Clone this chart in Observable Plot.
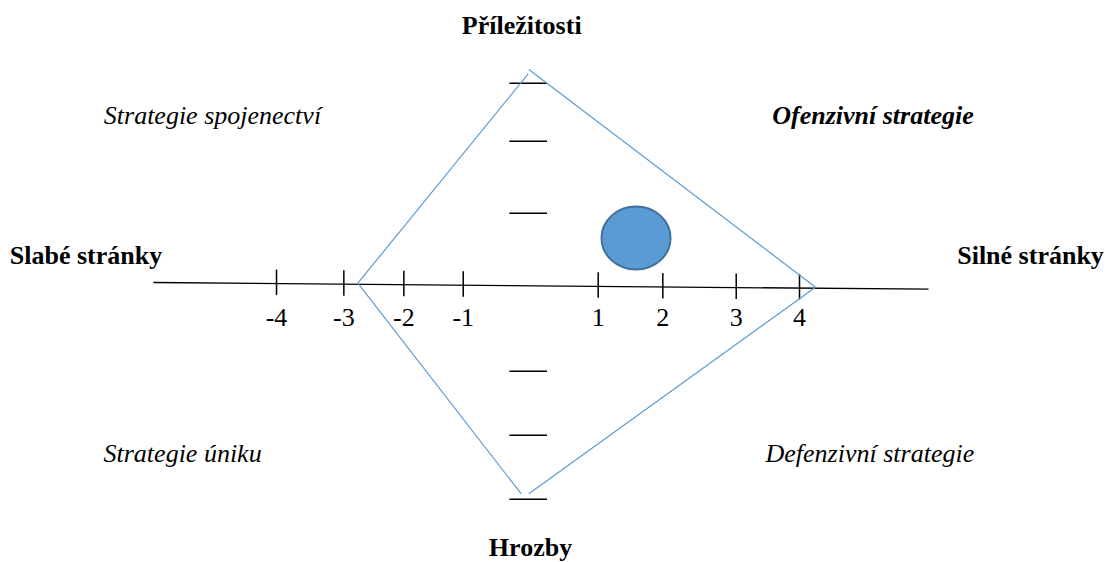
<!DOCTYPE html>
<html>
<head>
<meta charset="utf-8">
<script src="https://cdn.jsdelivr.net/npm/d3@7"></script>
<script src="https://cdn.jsdelivr.net/npm/@observablehq/plot@0.6"></script>
<style>
  html, body { margin: 0; padding: 0; background: #ffffff; }
  #chart svg { display: block; }
</style>
</head>
<body>
<div id="chart"></div>
<script>
// ---- Data (diagram units: horizontal axis = strengths/weaknesses, vertical = opportunities/threats) ----
// Horizontal axis line end points (the line is drawn slightly slanted)
const axisX = [-5.682, 6.061];
const axisY = [-0.015, -0.117];

// Tick marks on the horizontal axis (positions as drawn) and their labels
const tickPositions = [-3.818, -2.798, -1.889, -0.989, 1.056, 2.035, 3.147, 4.106];
const tickLabels = ["-4", "-3", "-2", "-1", "1", "2", "3", "4"];

// Short horizontal dashes on the vertical (opportunity/threat) axis
const dashLevels = [3.005, 2.126, 1.035, -1.359, -2.330, -3.298];

// Strategy polygon: four edges (start -> end)
const edgeX1 = [-2.586, 0.005, 4.348, -0.111];
const edgeY1 = [-0.026, 3.212, -0.086, -3.217];
const edgeX2 = [-0.005, 4.348, 0.005, -2.586];
const edgeY2 = [3.147, -0.086, -3.217, -0.026];

// Position of the organisation (ellipse)
const positionX = [1.629];
const positionY = [0.659];

// Axis titles
const axisTitleText = ["Příležitosti", "Hrozby", "Slabé stránky", "Silné stránky"];
const axisTitleX = [-0.103, 0.030, -7.859, 8.717];
const axisTitleY = [3.879, -4.026, 0.394, 0.394];
const axisTitleAnchor = ["middle", "middle", "start", "end"];

// Quadrant (strategy) labels
const quadrantText = ["Strategie spojenectví", "Ofenzivní strategie", "Strategie úniku", "Defenzivní strategie"];
const quadrantX = [-6.435, 3.692, -6.439, 3.591];
const quadrantY = [2.515, 2.515, -2.602, -2.602];
const quadrantBold = [false, true, false, false];

// ---- Build tables ----
const axisLine = [{x1: axisX[0], y1: axisY[0], x2: axisX[1], y2: axisY[1]}];
const axisAt = x => axisY[0] + (axisY[1] - axisY[0]) * (x - axisX[0]) / (axisX[1] - axisX[0]);
const ticks = tickPositions.map((x, i) => ({x, label: tickLabels[i], yc: axisAt(x)}));
const dashes = dashLevels.map(y => ({y}));
const edges = edgeX1.map((x1, i) => ({x1, y1: edgeY1[i], x2: edgeX2[i], y2: edgeY2[i]}));
const position = positionX.map((x, i) => ({x, y: positionY[i]}));
const titles = axisTitleText.map((t, i) => ({t, x: axisTitleX[i], y: axisTitleY[i], a: axisTitleAnchor[i]}));
const quads = quadrantText.map((t, i) => ({t, x: quadrantX[i], y: quadrantY[i], b: quadrantBold[i]}));

// ellipse symbol (slightly wider than tall)
const ellipse = {
  draw(context, size) {
    const r = Math.sqrt(size / Math.PI);
    const rx = r * 34.5 / 31.5, ry = r, k = 0.5523;
    context.moveTo(rx, 0);
    context.bezierCurveTo(rx, ry * k, rx * k, ry, 0, ry);
    context.bezierCurveTo(-rx * k, ry, -rx, ry * k, -rx, 0);
    context.bezierCurveTo(-rx, -ry * k, -rx * k, -ry, 0, -ry);
    context.bezierCurveTo(rx * k, -ry, rx, -ry * k, rx, 0);
    context.closePath();
  }
};

const FS = 26;
const FONT = "'Liberation Serif', 'Times New Roman', serif";
const tickUp = 14 / 66, tickDown = 11.5 / 66;
const dashLeft = -0.29, dashRight = 0.28;

const titleMark = anchor => Plot.text(titles.filter(d => d.a === anchor), {
  x: "x", y: "y", text: "t", textAnchor: anchor, fontFamily: FONT, fontSize: FS, fontWeight: "bold", fill: "#000000"
});

const chart = Plot.plot({
  width: 1105,
  height: 562,
  margin: 0,
  x: {domain: [-8, 8.742], axis: null},
  y: {domain: [-4.258, 4.258], axis: null},
  style: {fontFamily: FONT, background: "#ffffff"},
  marks: [
    // horizontal axis
    Plot.link(axisLine, {x1: "x1", y1: "y1", x2: "x2", y2: "y2", stroke: "#000000", strokeWidth: 1.3}),
    // axis ticks
    Plot.link(ticks, {x1: "x", x2: "x", y1: d => d.yc + tickUp, y2: d => d.yc - tickDown, stroke: "#000000", strokeWidth: 1.5}),
    Plot.text(ticks, {x: "x", y: -0.541, text: "label", fontFamily: FONT, fontSize: FS, fill: "#000000"}),
    // vertical dashes
    Plot.link(dashes, {x1: dashLeft, x2: dashRight, y1: "y", y2: "y", stroke: "#000000", strokeWidth: 1.5}),
    // strategy polygon
    Plot.link(edges, {x1: "x1", y1: "y1", x2: "x2", y2: "y2", stroke: "#5b9bd5", strokeWidth: 1.2}),
    // position ellipse
    Plot.dot(position, {x: "x", y: "y", r: 31.5, symbol: ellipse, fill: "#5b9bd5", stroke: "#41719c", strokeWidth: 2, fillOpacity: 1}),
    // axis titles
    titleMark("middle"),
    titleMark("start"),
    titleMark("end"),
    // quadrant labels
    Plot.text(quads.filter(d => !d.b), {x: "x", y: "y", text: "t", textAnchor: "start", fontFamily: FONT, fontSize: FS, fontStyle: "italic", fill: "#000000"}),
    Plot.text(quads.filter(d => d.b), {x: "x", y: "y", text: "t", textAnchor: "start", fontFamily: FONT, fontSize: FS, fontStyle: "italic", fontWeight: "bold", fill: "#000000"})
  ]
});
document.getElementById("chart").append(chart);
</script>
</body>
</html>
